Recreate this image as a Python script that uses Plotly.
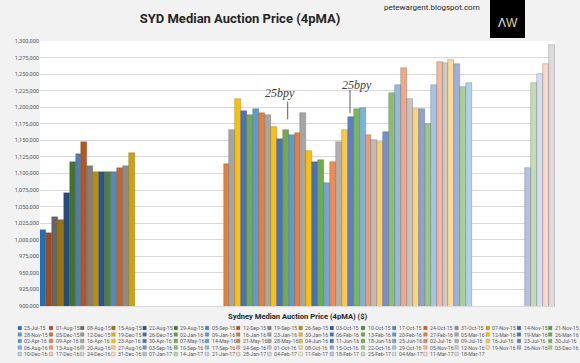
import plotly.graph_objects as go

# ---------------- data ----------------
DATES = [
    "25-Jul-15", "01-Aug-15", "08-Aug-15", "15-Aug-15", "22-Aug-15", "29-Aug-15", "05-Sep-15", "12-Sep-15", "19-Sep-15",
    "26-Sep-15", "03-Oct-15", "10-Oct-15", "17-Oct-15", "24-Oct-15", "31-Oct-15", "07-Nov-15", "14-Nov-15", "21-Nov-15",
    "28-Nov-15", "05-Dec-15", "12-Dec-15", "19-Dec-15", "26-Dec-15", "02-Jan-16", "09-Jan-16", "16-Jan-16", "23-Jan-16",
    "30-Jan-16", "06-Feb-16", "13-Feb-16", "20-Feb-16", "27-Feb-16", "05-Mar-16", "12-Mar-16", "19-Mar-16", "26-Mar-16",
    "02-Apr-16", "09-Apr-16", "16-Apr-16", "23-Apr-16", "30-Apr-16", "07-May-16", "14-May-16", "21-May-16", "28-May-16",
    "04-Jun-16", "11-Jun-16", "18-Jun-16", "25-Jun-16", "02-Jul-16", "09-Jul-16", "16-Jul-16", "23-Jul-16", "30-Jul-16",
    "06-Aug-16", "13-Aug-16", "20-Aug-16", "27-Aug-16", "03-Sep-16", "10-Sep-16", "17-Sep-16", "24-Sep-16", "01-Oct-16",
    "08-Oct-16", "15-Oct-16", "22-Oct-16", "29-Oct-16", "05-Nov-16", "12-Nov-16", "19-Nov-16", "26-Nov-16", "03-Dec-16",
    "10-Dec-16", "17-Dec-16", "24-Dec-16", "31-Dec-16", "07-Jan-17", "14-Jan-17", "21-Jan-17", "28-Jan-17", "04-Feb-17",
    "11-Feb-17", "18-Feb-17", "25-Feb-17", "04-Mar-17", "11-Mar-17", "18-Mar-17",
]

PRICES_2015 = [1014000, 1010000, 1035000, 1030000, 1071000, 1118000, 1130000, 1147000,
               1111000, 1102000, 1102000, 1102000, 1102000, 1109000, 1112000, 1131000]
GAP_SUMMER_1 = [None] * 15
PRICES_2016 = [1115000, 1166000, 1212000, 1195000, 1188000, 1197000, 1192000, 1188000,
               1170000, 1152000, 1166000, 1158000, 1161000, 1191000, 1134000, 1118000,
               1120000, 1086000, 1117000, 1148000, 1166000, 1185000, 1197000, 1199000,
               1158000, 1150000, 1147000, 1162000, 1222000, 1234000, 1259000, 1212000,
               1197000, 1197000, 1175000, 1234000, 1268000, 1267000, 1272000, 1265000,
               1230000, 1236000]
GAP_SUMMER_2 = [None] * 9
PRICES_2017 = [1109000, 1237000, 1250000, 1266000, 1294000]

PRICES = PRICES_2015 + GAP_SUMMER_1 + PRICES_2016 + GAP_SUMMER_2 + PRICES_2017

CATEGORY = ["Sydney Median Auction Price (4pMA) ($)"]
TITLE = "SYD Median Auction Price (4pMA)"
SOURCE = "petewargent.blogspot.com"
RATE_CUT_NOTE = "25bpy"

# ---------------- styles ----------------
CYCLE_PALETTES = [
    ['#1F6FBF', '#A24A1A', '#666666', '#9C7500', '#264A86', '#46732C'],
    ['#4A80BA', '#B9561C', '#7F7F7F', '#BD8F00', '#2D5394', '#4F8233'],
    ['#5089C4', '#C8632A', '#8C8C8C', '#D2A300', '#3A63AE', '#5C963D'],
    ['#5B9BD5', '#D86E2C', '#9A9A9A', '#E8B100', '#3F69B8', '#67A142'],
    ['#5B9BD5', '#E37630', '#A0A0A0', '#F5BA00', '#4270C0', '#6CA845'],
    ['#5B9BD5', '#ED7D31', '#A5A5A5', '#FFC000', '#4472C4', '#70AD47'],
    ['#5B9BD5', '#ED7D31', '#A5A5A5', '#FFC000', '#4472C4', '#70AD47'],
    ['#5B9BD5', '#ED7D31', '#A5A5A5', '#FFC000', '#4472C4', '#70AD47'],
    ['#6EA7DB', '#EF8A52', '#B0B0B0', '#FFC743', '#5A80CC', '#7DB65A'],
    ['#7DB1E0', '#F29A6C', '#BBBBBB', '#FFCE60', '#7490D4', '#8BBF6B'],
    ['#8DBBE4', '#F4A783', '#C4C4C4', '#FFD477', '#8AA2DA', '#9BC87E'],
    ['#A2C6EA', '#F6B699', '#CBCBCB', '#FFDB90', '#9CB0E0', '#A9D08E'],
    ['#B2D0EE', '#F8C4AD', '#D2D2D2', '#FFE2A6', '#AABDE4', '#B6D7A0'],
    ['#C0D8F1', '#F9CFBE', '#D8D8D8', '#FFE8B8', '#B4C0E6', '#C3DDB3'],
    ['#CFE0F4', '#FBD6C9', '#DCDCDC', '#FFEDC8', '#C0CCEA', '#CFE4C2'],
]


def series_color(i):
    return CYCLE_PALETTES[i // 6][i % 6]


W, H = 580, 363
L, R, T, B = 40, 25, 41, 57
PW, PH = W - L - R, H - T - B
YMIN, YMAX = 900000, 1300000

SANS = "Roboto, Liberation Sans, Arial, sans-serif"


def px_x(x):
    return (x - L) / PW


def px_y(y):
    return (H - B - y) / PH


fig = go.Figure()
for i, (lab, val) in enumerate(zip(DATES, PRICES)):
    fig.add_trace(go.Bar(
        x=CATEGORY, y=[val], name=lab, showlegend=False,
        marker=dict(color=series_color(i), line=dict(color='rgba(70,70,70,0.45)', width=0.6)),
    ))

annotations = []
shapes = []

# custom legend: 18 columns x 5 rows
for i, lab in enumerate(DATES):
    row, col = divmod(i, 18)
    xm = 18 + 31.2 * col
    ym = 328 + 6.5 * row
    shapes.append(dict(type='rect', xref='paper', yref='paper',
                       x0=px_x(xm), x1=px_x(xm + 3.6), y0=px_y(ym + 1.8), y1=px_y(ym - 1.8),
                       fillcolor=series_color(i), line=dict(color='rgba(90,90,90,0.6)', width=0.4)))
    annotations.append(dict(
        xref='paper', yref='paper', x=px_x(xm + 4.4), y=px_y(ym),
        xanchor='left', yanchor='middle', showarrow=False, text=lab,
        font=dict(family=SANS, size=5.2, color='#595959'),
    ))

# axis caption (the single category)
annotations.append(dict(xref='paper', yref='paper', x=px_x(298), y=px_y(316), showarrow=False,
                        text=f"<b>{CATEGORY[0]}</b>", xanchor='center', yanchor='middle',
                        font=dict(family=SANS, size=7.6, color='#262626')))

# rate-cut notes
for tx, ty, lx, ly0, ly1 in [(279.5, 93, 287.7, 101.7, 119.3), (357.2, 85, 350.0, 90.0, 113.3)]:
    annotations.append(dict(
        xref='paper', yref='paper', x=px_x(tx), y=px_y(ty), showarrow=False,
        text=f"<i>{RATE_CUT_NOTE}</i>", xanchor='center', yanchor='middle',
        font=dict(family="Liberation Serif, serif", size=12, color='#404040'),
    ))
    shapes.append(dict(type='line', xref='paper', yref='paper', x0=px_x(lx), x1=px_x(lx),
                       y0=px_y(ly0), y1=px_y(ly1), line=dict(color='#595959', width=1)))

# source and logo
annotations.append(dict(xref='paper', yref='paper', x=px_x(432), y=px_y(7.5), showarrow=False,
                        text=SOURCE, xanchor='center', yanchor='middle',
                        font=dict(family=SANS, size=8, color='#262626')))
shapes.append(dict(type='rect', xref='paper', yref='paper', x0=px_x(490), x1=px_x(525),
                   y0=px_y(38), y1=px_y(0), fillcolor='#000000', line=dict(width=0)))
annotations.append(dict(xref='paper', yref='paper', x=px_x(507.5), y=px_y(23), showarrow=False,
                        text="<span style='color:#e6e6e6'>Λ</span><span style='color:#e8d68a'>W</span>",
                        xanchor='center', yanchor='middle',
                        font=dict(family="Liberation Sans, Arial, sans-serif", size=12)))

fig.update_layout(
    width=W, height=H,
    margin=dict(l=L, r=R, t=T, b=B, pad=0),
    paper_bgcolor='#F2F2F2', plot_bgcolor='#FFFFFF',
    barmode='group', bargap=0, bargroupgap=0,
    title=dict(text=f"<b>{TITLE}</b>", x=240 / W, xanchor='center', y=1 - 18 / H, yanchor='middle',
               font=dict(family=SANS, size=13, color='#262626')),
    xaxis=dict(showticklabels=False, ticks='', showgrid=False, showline=True, linecolor='#D9D9D9',
               automargin=False),
    yaxis=dict(range=[YMIN, YMAX], dtick=25000, tickformat=',', ticks='', showgrid=True,
               gridcolor='#D9D9D9', gridwidth=1, zeroline=False, showline=False, automargin=False,
               tickfont=dict(family=SANS, size=5.6, color='#595959')),
    annotations=annotations, shapes=shapes,
    showlegend=False,
)

fig.write_html("out.html", config={'displayModeBar': False},
               post_script="document.body.style.margin='0';")
